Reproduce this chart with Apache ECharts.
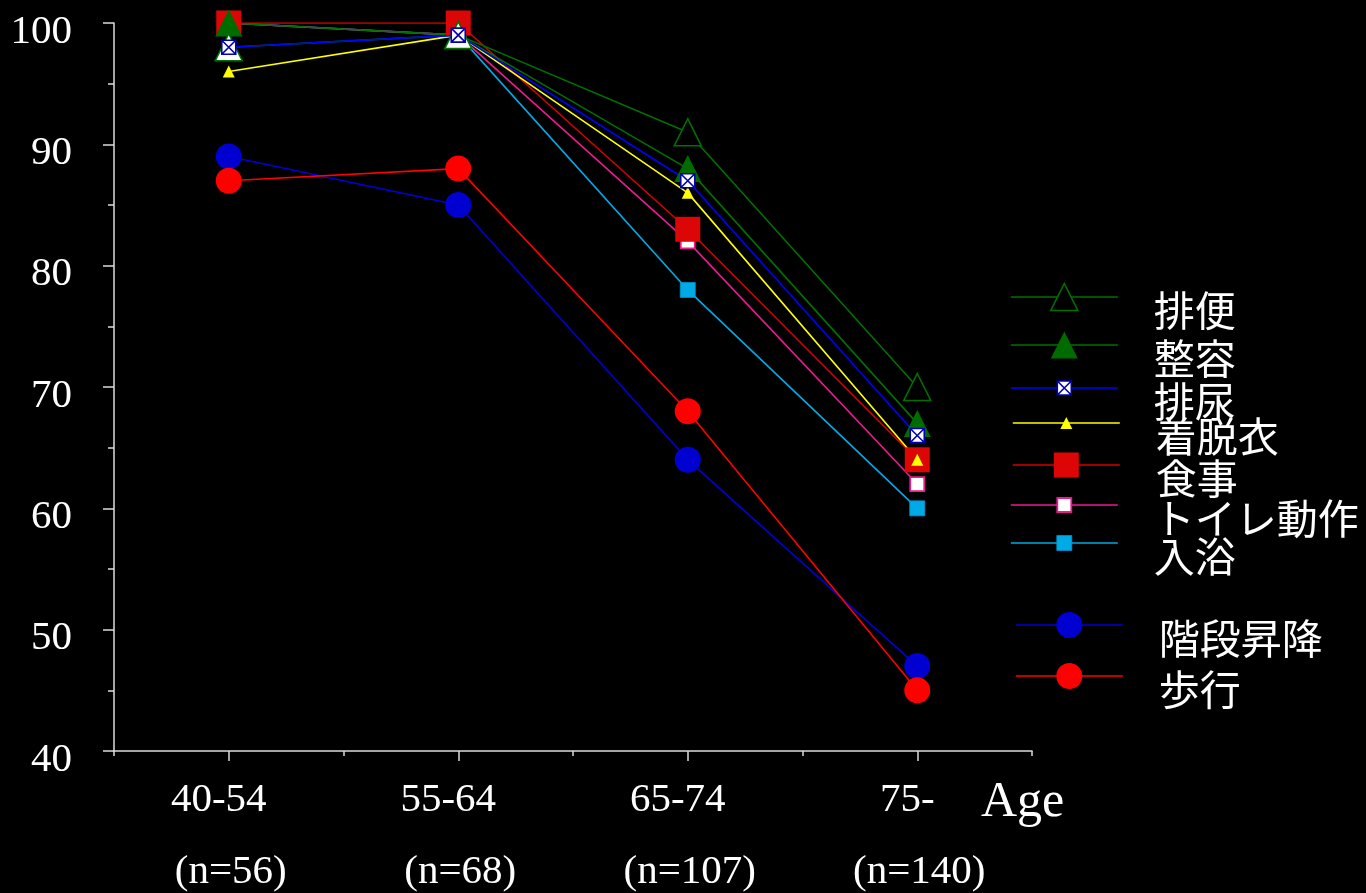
<!DOCTYPE html>
<html>
<head>
<meta charset="utf-8">
<script src="https://cdn.jsdelivr.net/npm/echarts@6/dist/echarts.min.js"></script>
<style>
  html, body { margin: 0; padding: 0; background: #000; }
  #chart { width: 1366px; height: 893px; }
</style>
</head>
<body>
<div id="chart"></div>
<script>
// Age groups and group sizes (two rows of category labels)
const ageGroups = ['40-54', '55-64', '65-74', '75-'];
const sampleSizes = ['(n=56)', '(n=68)', '(n=107)', '(n=140)'];

// Independence rate (%) per activity and age group
const defecation = [98, 99, 91, 70];   // 排便
const grooming   = [100, 99, 88, 67];  // 整容
const urination  = [98, 99, 87, 66];   // 排尿
const dressing   = [96, 99, 86, 64];   // 着脱衣
const eating     = [100, 100, 83, 64]; // 食事
const toileting  = [100, 99, 82, 62];  // トイレ動作
const bathing    = [100, 99, 78, 60];  // 入浴
const stairs     = [89, 85, 64, 47];   // 階段昇降
const walking    = [87, 88, 68, 45];   // 歩行

const SERIF = '"Liberation Serif", "Times New Roman", serif';
const GOTHIC = '"Noto Sans CJK JP", "Noto Sans", sans-serif';
const AXIS_COLOR = '#dcdcdc';
const CROSS_BOX = 'path://M0 0H10V10H0Z M0 0L10 10 M10 0L0 10';

// Legend names sit a little below their sample line: an empty first
// line of height LEGEND_DROP pushes the name down by half of it.
const LEGEND_DROP = 26;
const LEGEND_FONT = 41;
// distance from the top of the legend text block to the sample line
const LEGEND_HEAD = LEGEND_DROP / 2 + LEGEND_FONT / 2;

// Drawing order = stacking order (later entries are painted on top)
const lines = [
  { name: '入浴', values: bathing, line: '#00aae6', symbol: 'rect', size: 15,
    fill: '#00aae6', border: '#0092cc', bw: 0.8, lx: 1010, ly: 543 },
  { name: 'トイレ動作', values: toileting, line: '#ec1a8c', symbol: 'rect', size: 14,
    fill: '#ffffff', border: '#ec1a8c', bw: 1.8, lx: 1010, ly: 505 },
  { name: '食事', values: eating, line: '#d80000', symbol: 'rect', size: 25,
    fill: '#dc0606', border: '#dc0606', bw: 0, lx: 1012, ly: 465 },
  { name: '着脱衣', values: dressing, line: '#ffff00', symbol: 'triangle', size: 12,
    fill: '#ffff00', border: '#ffff00', bw: 0, lx: 1012, ly: 423 },
  { name: '整容', values: grooming, line: '#007000', symbol: 'triangle', size: 27,
    fill: '#006c00', border: '#006c00', bw: 0, lx: 1010, ly: 345 },
  { name: '排便', values: defecation, line: '#007000', symbol: 'triangle', size: 27,
    fill: '#000000', border: '#007000', bw: 1.6, lx: 1010, ly: 297,
    pointFills: ['#ffffff', '#ffffff'] },
  { name: '排尿', values: urination, line: '#0000ff', symbol: CROSS_BOX, size: 14,
    fill: '#ffffff', border: '#0000b4', bw: 1.6, lx: 1010, ly: 388 },
  { name: '階段昇降', values: stairs, line: '#0000d8', symbol: 'circle', size: 26,
    fill: '#0000d0', border: '#0000d0', bw: 0, lx: 1015, ly: 625 },
  { name: '歩行', values: walking, line: '#ff0000', symbol: 'circle', size: 26,
    fill: '#ff0000', border: '#ff0000', bw: 0, lx: 1015, ly: 676 }
];

const series = lines.map(l => ({
  name: l.name,
  type: 'line',
  xAxisIndex: 0,
  yAxisIndex: 0,
  symbol: l.symbol,
  symbolSize: l.size,
  symbolKeepAspect: true,
  showAllSymbol: true,
  lineStyle: { color: l.line, width: 1.6 },
  itemStyle: { color: l.fill, borderColor: l.border, borderWidth: l.bw },
  emphasis: { disabled: true },
  data: l.values.map((v, i) =>
    l.pointFills && l.pointFills[i] ? { value: v, itemStyle: { color: l.pointFills[i] } } : v)
}));

// One legend block per entry so each row sits at its own height
const legends = lines.map(l => {
  const h = l.size / 0.8;
  return {
    data: [l.name],
    left: l.lx,
    top: l.ly - Math.max(h / 2, LEGEND_HEAD),
    padding: 0,
    itemWidth: 107,
    itemHeight: h,
    selectedMode: false,
    formatter: '\n{name}',
    itemStyle: { color: l.fill, borderColor: l.border, borderWidth: l.bw },
    lineStyle: { color: l.line, width: 1.6 },
    textStyle: {
      color: '#ffffff',
      fontFamily: GOTHIC,
      fontSize: LEGEND_FONT,
      lineHeight: LEGEND_DROP,
      padding: [0, 0, 0, 31]
    }
  };
});

const chart = echarts.init(document.getElementById('chart'), null, { renderer: 'canvas' });
chart.setOption({
  backgroundColor: '#000000',
  animation: false,
  grid: { left: 114, top: 23, right: 334, bottom: 142, containLabel: false },
  legend: legends,
  xAxis: [
    {
      type: 'category',
      position: 'bottom',
      data: ageGroups,
      boundaryGap: true,
      name: 'Age',
      nameLocation: 'end',
      nameGap: -51,
      nameTextStyle: {
        color: '#ffffff', fontFamily: SERIF, fontSize: 50,
        align: 'left', verticalAlign: 'top', lineHeight: 104
      },
      axisLine: { show: true, lineStyle: { color: AXIS_COLOR, width: 1.5 } },
      axisTick: { show: true, interval: 0, alignWithLabel: false, length: 5,
        lineStyle: { color: AXIS_COLOR, width: 1.5 } },
      axisLabel: { color: '#ffffff', fontFamily: SERIF, fontSize: 41,
        margin: 29, interval: 0, padding: [0, 20, 0, 0] },
      splitLine: { show: false }
    },
    {
      type: 'category',
      position: 'bottom',
      data: sampleSizes,
      boundaryGap: true,
      axisLine: { show: false },
      axisTick: { show: true, interval: 0, alignWithLabel: true, length: 10,
        lineStyle: { color: AXIS_COLOR, width: 1.5 } },
      axisLabel: { color: '#ffffff', fontFamily: SERIF, fontSize: 41,
        margin: 101, interval: 0, padding: [0, 0, 0, 4] },
      splitLine: { show: false }
    }
  ],
  yAxis: {
    type: 'value',
    min: 40,
    max: 100,
    interval: 10,
    axisLine: { show: true, lineStyle: { color: AXIS_COLOR, width: 1.5 } },
    axisTick: { show: true, length: 11, lineStyle: { color: AXIS_COLOR, width: 1.5 } },
    minorTick: { show: true, splitNumber: 2, length: 6, lineStyle: { color: AXIS_COLOR, width: 1.5 } },
    axisLabel: { color: '#ffffff', fontFamily: SERIF, fontSize: 41, margin: 42,
      verticalAlign: 'top', lineHeight: 18 },
    splitLine: { show: false },
    minorSplitLine: { show: false }
  },
  series: series
});
</script>
</body>
</html>
